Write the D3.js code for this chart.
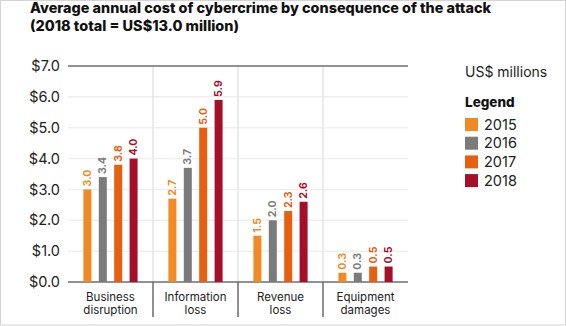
<!DOCTYPE html>
<html>
<head>
<meta charset="utf-8">
<script src="https://cdn.jsdelivr.net/npm/d3@7"></script>
<style>
    body { margin: 0; background: #fff; }
    svg { display: block; font-family: 'Inter', 'Roboto', sans-serif; }
</style>
</head>
<body>
<div id="wrapper"></div>
<script>
// data
const categories = [['Business', 'disruption'], ['Information', 'loss'], ['Revenue', 'loss'], ['Equipment', 'damages']];
const years = ['2015', '2016', '2017', '2018'];
const values = [
    [3.0, 3.4, 3.8, 4.0],
    [2.7, 3.7, 5.0, 5.9],
    [1.5, 2.0, 2.3, 2.6],
    [0.3, 0.3, 0.5, 0.5],
];
const yTicks = [0, 1, 2, 3, 4, 5, 6, 7];
const colors = ['#f08a24', '#7b7b7b', '#e8600f', '#a50f27'];

const dimensions = {
    width: 566,
    height: 326,
    margin: { top: 66, right: 158, bottom: 44, left: 68 },
};
dimensions.boundedWidth = dimensions.width - dimensions.margin.left - dimensions.margin.right;
dimensions.boundedHeight = dimensions.height - dimensions.margin.top - dimensions.margin.bottom;

const svg = d3.select('#wrapper')
    .append('svg')
    .attr('width', dimensions.width)
    .attr('height', dimensions.height);

// thin frame
svg.append('rect')
    .attr('x', 0.5).attr('y', 0.5)
    .attr('width', dimensions.width - 1).attr('height', dimensions.height - 1.5)
    .attr('fill', 'none')
    .attr('stroke', '#d4d4d4');

// title
const title = svg.append('g').attr('font-weight', 800).attr('fill', '#111').attr('font-size', 14);
title.append('text').attr('x', 30).attr('y', 13)
    .attr('textLength', 461).attr('lengthAdjust', 'spacingAndGlyphs')
    .text('Average annual cost of cybercrime by consequence of the attack');
title.append('text').attr('x', 30).attr('y', 31)
    .attr('textLength', 209).attr('lengthAdjust', 'spacingAndGlyphs')
    .text('(2018 total = US$13.0 million)');

const bounds = svg.append('g')
    .attr('transform', `translate(${dimensions.margin.left}, ${dimensions.margin.top})`);

// scales
const x0 = d3.scaleBand()
    .domain(d3.range(categories.length))
    .range([0, dimensions.boundedWidth])
    .padding(0);

const x1 = d3.scaleBand()
    .domain(years)
    .range([0, x0.bandwidth()])
    .paddingInner(0.48)
    .paddingOuter(1.0);

const y = d3.scaleLinear()
    .domain([0, 7])
    .range([dimensions.boundedHeight, 0]);

// gridlines
bounds.append('g')
    .selectAll('line')
    .data(yTicks.slice(1, -1))
    .join('line')
    .attr('x1', 0).attr('x2', dimensions.boundedWidth)
    .attr('y1', d => y(d)).attr('y2', d => y(d))
    .attr('stroke', '#efefef')
    .attr('stroke-width', 1.5);

// separators between groups
const seps = d3.range(1, categories.length).map(i => x0(i));
bounds.append('g')
    .selectAll('line')
    .data(seps)
    .join('line')
    .attr('x1', d => d).attr('x2', d => d)
    .attr('y1', 0).attr('y2', dimensions.boundedHeight)
    .attr('stroke', '#e4e4e4')
    .attr('stroke-width', 1.5);
bounds.append('g')
    .selectAll('line')
    .data(seps)
    .join('line')
    .attr('x1', d => d).attr('x2', d => d)
    .attr('y1', dimensions.boundedHeight).attr('y2', dimensions.boundedHeight + 35)
    .attr('stroke', '#6a6a6a')
    .attr('stroke-width', 1.5);

// y axis labels
const yAxis = d3.axisLeft(y)
    .tickValues(yTicks)
    .tickSize(0)
    .tickPadding(8)
    .tickFormat(d => '$' + d3.format('.1f')(d));
const yAxisGroup = bounds.append('g').call(yAxis);
yAxisGroup.select('.domain').remove();
yAxisGroup.selectAll('text')
    .attr('font-size', 14.5)
    .attr('fill', '#222')
    .attr('font-family', "'Inter', 'Roboto', sans-serif");

// top and base lines
[7, 0].forEach(v => {
    bounds.append('line')
        .attr('x1', 0).attr('x2', dimensions.boundedWidth)
        .attr('y1', y(v)).attr('y2', y(v))
        .attr('stroke', '#6e6e6e')
        .attr('stroke-width', 1.5);
});

// bars
const groups = bounds.selectAll('.group')
    .data(values)
    .join('g')
    .attr('class', 'group')
    .attr('transform', (d, i) => `translate(${x0(i)}, 0)`);

groups.selectAll('rect')
    .data(d => d.map((v, j) => ({ year: years[j], value: v, j })))
    .join('rect')
    .attr('x', d => x1(d.year))
    .attr('y', d => y(d.value))
    .attr('width', x1.bandwidth())
    .attr('height', d => dimensions.boundedHeight - y(d.value))
    .attr('fill', d => colors[d.j]);

// value labels, rotated
groups.selectAll('.value')
    .data(d => d.map((v, j) => ({ year: years[j], value: v, j })))
    .join('text')
    .attr('class', 'value')
    .attr('transform', d => `translate(${x1(d.year) + x1.bandwidth() / 2 + 3.5}, ${y(d.value) - 3}) rotate(-90)`)
    .attr('text-anchor', 'start')
    .attr('font-size', 10.5)
    .attr('font-weight', 700)
    .attr('fill', d => colors[d.j])
    .text(d => d3.format('.1f')(d.value));

// category labels
const catLabels = bounds.append('g')
    .selectAll('text')
    .data(categories)
    .join('text')
    .attr('text-anchor', 'middle')
    .attr('font-size', 11.5)
    .attr('fill', '#222')
    .attr('transform', (d, i) => `translate(${x0(i) + x0.bandwidth() / 2}, ${dimensions.boundedHeight + 19})`);
catLabels.selectAll('tspan')
    .data(d => d)
    .join('tspan')
    .attr('x', 0)
    .attr('dy', (d, i) => i === 0 ? 0 : 12.5)
    .text(d => d);

// legend
const legend = svg.append('g').attr('transform', 'translate(465, 0)');
legend.append('text')
    .attr('x', 0).attr('y', 77)
    .attr('font-size', 14)
    .attr('fill', '#222')
    .text('US$ millions');
legend.append('text')
    .attr('x', 0).attr('y', 107)
    .attr('font-size', 13.5)
    .attr('font-weight', 800)
    .attr('fill', '#111')
    .text('Legend');
const items = legend.selectAll('.item')
    .data(years)
    .join('g')
    .attr('class', 'item')
    .attr('transform', (d, i) => `translate(0, ${118 + i * 18.7})`);
items.append('rect')
    .attr('width', 13).attr('height', 13)
    .attr('fill', (d, i) => colors[i]);
items.append('text')
    .attr('x', 19).attr('y', 11.5)
    .attr('font-size', 14.5)
    .attr('fill', '#222')
    .text(d => d);
</script>
</body>
</html>
